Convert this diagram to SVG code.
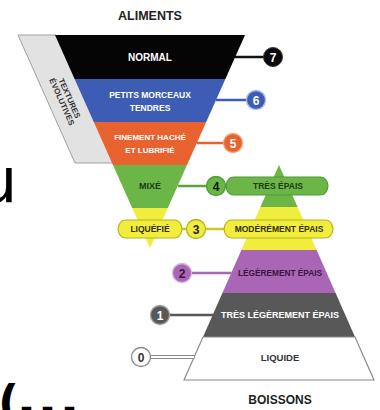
<svg xmlns="http://www.w3.org/2000/svg" width="380" height="410" viewBox="0 0 380 410">
<style>
.t{font-family:"Liberation Sans",Arial,sans-serif;font-weight:bold;text-anchor:middle}
.w{fill:#ffffff}
.num{font-family:"Liberation Sans",Arial,sans-serif;font-weight:bold;font-size:12px;text-anchor:middle}
.ln{stroke-width:2.5;fill:none}
.big{font-family:"DejaVu Sans",sans-serif;fill:#000}
</style>
<rect width="380" height="410" fill="#ffffff"/>
<text class="big" x="-22" y="202" font-size="62">u</text>
<text class="big" x="-2" y="418" font-size="46" font-weight="bold">(</text>
<text class="big" x="23 44 66" y="406" font-size="14" font-weight="bold" stroke="#000" stroke-width="2.4">___</text>
<text class="t" x="150" y="20" font-size="12.5" fill="#222">ALIMENTS</text>
<text class="t" x="280" y="404" font-size="12" fill="#222">BOISSONS</text>
<g id="textures-band">
<polygon points="18,35 56,35 114,163 75,163" fill="#e2e2e2" stroke="#a0a0a0" stroke-width="1"/>
<text class="t" font-size="8" fill="#333" transform="translate(69.6,98.3) rotate(66)" dy="2.8">TEXTURES</text>
<text class="t" font-size="8" fill="#333" transform="translate(62.0,101.8) rotate(66)" dy="2.8">ÉVOLUTIVES</text>
</g>
<g id="normal"><polygon points="55,35 245,35 225.4,79 74.6,79" fill="#050505"/><text class="t w" x="150" y="61" font-size="10">NORMAL</text></g>
<g id="petits-morceaux"><polygon points="74.6,79 225.4,79 206.2,122 93.8,122" fill="#3d5db5"/><text class="t w" x="150" y="98" font-size="8.5">PETITS MORCEAUX</text><text class="t w" x="150" y="111" font-size="8.5">TENDRES</text></g>
<g id="finement-hache"><polygon points="93.8,122 206.2,122 187,165 113,165" fill="#e8622f"/><text class="t w" x="150" y="140" font-size="8">FINEMENT HACHÉ</text><text class="t w" x="150" y="153" font-size="8">ET LUBRIFIÉ</text></g>
<g id="mixe"><polygon points="113,165 187,165 167.8,208 132.2,208" fill="#6cb648"/><text class="t" x="150" y="189" font-size="9" fill="#1f3a10">MIXÉ</text></g>
<g id="liquefie-band"><polygon points="132.2,208 167.8,208 150,248" fill="#f1ed3c"/></g>
<g id="tres-epais-band"><polygon points="279,165 297.6,207 260.4,207" fill="#6cb648"/></g>
<g id="moderement-band"><polygon points="260.4,207 297.6,207 316.6,250 241.4,250" fill="#f1ed3c"/></g>
<g id="legerement"><polygon points="241.4,250 316.6,250 335.6,293 222.4,293" fill="#a866b4"/><text class="t" x="280" y="276" font-size="8.3" fill="#3a1540">LÉGÈREMENT ÉPAIS</text></g>
<g id="tres-legerement"><polygon points="222.4,293 335.6,293 355,337 203,337" fill="#585858"/><text class="t w" x="280" y="318" font-size="9">TRÈS LÉGÈREMENT ÉPAIS</text></g>
<g id="liquide"><polygon points="203,337 355,337 374,380 184,380" fill="#ffffff" stroke="#8a8a8a" stroke-width="1.2"/><text class="t" x="280" y="361" font-size="9.5" fill="#333">LIQUIDE</text></g>
<g id="connectors">
<line class="ln" x1="235" y1="57" x2="264" y2="57" stroke="#111"/>
<line class="ln" x1="216" y1="100" x2="247" y2="100" stroke="#3d5db5"/>
<line class="ln" x1="197" y1="143" x2="224" y2="143" stroke="#e8622f"/>
<line class="ln" x1="178" y1="186" x2="207" y2="186" stroke="#5aa53a"/>
<line class="ln" x1="225" y1="186" x2="227" y2="186" stroke="#5aa53a"/>
<line class="ln" x1="182" y1="229" x2="187" y2="229" stroke="#cfc72a"/>
<line class="ln" x1="205" y1="229" x2="225" y2="229" stroke="#cfc72a"/>
<line class="ln" x1="191" y1="273" x2="231.5" y2="273" stroke="#a866b4"/>
<line class="ln" x1="169" y1="315" x2="213" y2="315" stroke="#585858"/>
<line x1="150" y1="357" x2="194.5" y2="357" stroke="#8a8a8a" stroke-width="4"/>
<line x1="150" y1="357" x2="194" y2="357" stroke="#ffffff" stroke-width="1.8"/>
</g>
<g id="label-liquefie"><path d="M118 229 Q119 220 126 220 H174 Q181 220 182 229 Q181 238 174 238 H126 Q119 238 118 229 Z" fill="#f1ed3c" stroke="#b8b022" stroke-width="1.2"/><text class="t" x="150" y="232" font-size="8.5" fill="#333000">LIQUÉFIÉ</text></g>
<g id="label-tres-epais"><path d="M226 186 Q227 177 234 177 H320 Q327 177 328 186 Q327 195 320 195 H234 Q227 195 226 186 Z" fill="#6cb648" stroke="#4e9a33" stroke-width="1.2"/><text class="t" x="278" y="189" font-size="8.5" fill="#1f3a10">TRÈS ÉPAIS</text></g>
<g id="label-moderement"><path d="M224 229 Q225 220 232 220 H325 Q332 220 333 229 Q332 238 325 238 H232 Q225 238 224 229 Z" fill="#f1ed3c" stroke="#b8b022" stroke-width="1.2"/><text class="t" x="279" y="232" font-size="8.5" fill="#333000">MODÉRÉMENT ÉPAIS</text></g>
<g id="c7"><circle cx="273" cy="57" r="9.5" fill="#0a0a0a" stroke="#333" stroke-width="1"/><text class="num w" x="273" y="61.5">7</text></g>
<g id="c6"><circle cx="256" cy="100" r="9.5" fill="#3d5db5" stroke="#a9bbe6" stroke-width="1.3"/><text class="num w" x="256" y="104.5">6</text></g>
<g id="c5"><circle cx="233" cy="143" r="9.5" fill="#e8622f" stroke="#f6a27c" stroke-width="1.3"/><text class="num w" x="233" y="147.5">5</text></g>
<g id="c4"><circle cx="216" cy="186" r="9.5" fill="#6cb648" stroke="#4e9a33" stroke-width="1.3"/><text class="num" x="216" y="190.5" fill="#111">4</text></g>
<g id="c3"><circle cx="196" cy="229" r="9.5" fill="#f1ed3c" stroke="#b8b022" stroke-width="1.3"/><text class="num" x="196" y="233.5" fill="#222">3</text></g>
<g id="c2"><circle cx="182" cy="273" r="9.5" fill="#a866b4" stroke="#d9b5e2" stroke-width="1.3"/><text class="num" x="182" y="277.5" fill="#3a1540">2</text></g>
<g id="c1"><circle cx="160" cy="315" r="9.5" fill="#585858" stroke="#a0a0a0" stroke-width="1.3"/><text class="num w" x="160" y="319.5">1</text></g>
<g id="c0"><circle cx="141" cy="357" r="9.5" fill="#ffffff" stroke="#8a8a8a" stroke-width="1.3"/><text class="num" x="141" y="361.5" fill="#333">0</text></g>
</svg>
